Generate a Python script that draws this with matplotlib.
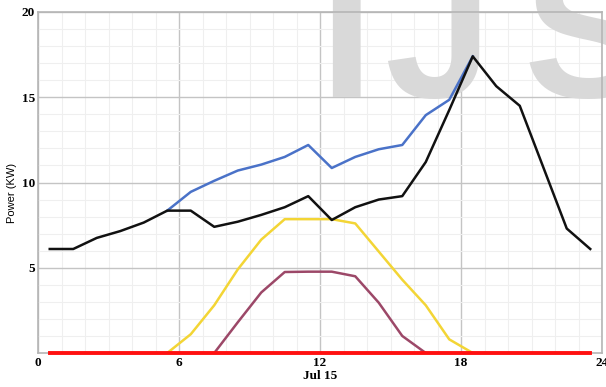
import numpy as np
import matplotlib
matplotlib.use("Agg")
import matplotlib.pyplot as plt
from matplotlib.ticker import MultipleLocator

# hourly samples, taken at the half hour
hours = np.arange(0.5, 24, 1.0)

load = [6.1, 6.1, 6.75, 7.15, 7.65, 8.35, 8.35, 7.4, 7.7, 8.1, 8.55, 9.2,
        7.8, 8.55, 9.0, 9.2, 11.2, 14.25, 17.4, 15.65, 14.5, 10.9, 7.3, 6.1]

blue_hours = np.arange(5.5, 19, 1.0)
blue_vals = [8.35, 9.45, 10.1, 10.7, 11.05, 11.5, 12.2, 10.85, 11.5, 11.95,
             12.2, 13.95, 14.85, 17.4]

yellow_hours = np.arange(5.5, 19, 1.0)
yellow_vals = [0.0, 1.1, 2.8, 4.9, 6.65, 7.85, 7.85, 7.85, 7.6, 5.95, 4.3,
               2.8, 0.8, 0.0]

pink_hours = np.arange(7.5, 17, 1.0)
pink_vals = [0.0, 1.8, 3.55, 4.75, 4.77, 4.77, 4.5, 2.95, 1.0, 0.0]

red_vals = [0.0] * len(hours)

x_ticks = [0, 6, 12, 18, 24]
x_labels = ["0", "6", "12\nJul 15", "18", "24"]
y_ticks = [5, 10, 15, 20]

# watermark letters and their text origins in pixels
mark_letters = ["I", "J", "S"]
mark_left = [319, 384, 523]

W, H = 606, 387
fig = plt.figure(figsize=(W / 100, H / 100), dpi=100)
ax = fig.add_axes([38 / W, 34 / H, 564 / W, 341 / H])

ax.set_xlim(0, 24)
ax.set_ylim(0, 20)

ax.xaxis.set_minor_locator(MultipleLocator(1))
ax.yaxis.set_minor_locator(MultipleLocator(1))
ax.grid(True, which="major", color="#c4c4c4", lw=1.0)
ax.grid(True, which="minor", color="#efefef", lw=0.8)

for s in ax.spines.values():
    s.set_color("#b5b5b5")
    s.set_linewidth(1.2)

tick_font = dict(family="Liberation Serif", weight="bold", size=9.5)
ax.set_xticks(x_ticks)
ax.set_xticklabels(x_labels, fontdict=tick_font, linespacing=1.05)
ax.set_yticks(y_ticks)
ax.set_yticklabels([str(v) for v in y_ticks], fontdict=tick_font)
ax.tick_params(which="both", length=0)
ax.tick_params(axis="x", pad=3)
ax.tick_params(axis="y", pad=2)

ax.set_ylabel("Power (KW)", family="Liberation Sans", fontsize=8)
ax.yaxis.set_label_coords(-0.037, 0.47)

# faint journal watermark behind the curves
for letter, left in zip(mark_letters, mark_left):
    ax.text(left / W, (H - 97) / H, letter, transform=fig.transFigure,
            family="Liberation Sans", weight="bold", fontsize=139,
            color="#d9d9d9", ha="left", va="baseline", clip_on=False,
            zorder=1.6)

ax.plot(blue_hours, blue_vals, color="#4a72c8", lw=1.8, zorder=3)
ax.plot(hours, load, color="#111111", lw=1.8, zorder=4)
ax.plot(yellow_hours, yellow_vals, color="#f3d535", lw=1.8, zorder=3)
ax.plot(pink_hours, pink_vals, color="#9c4868", lw=1.8, zorder=3)
ax.plot(hours, red_vals, color="#ff1010", lw=2.8, zorder=5, clip_on=False)

fig.savefig("out.png", dpi=100)
